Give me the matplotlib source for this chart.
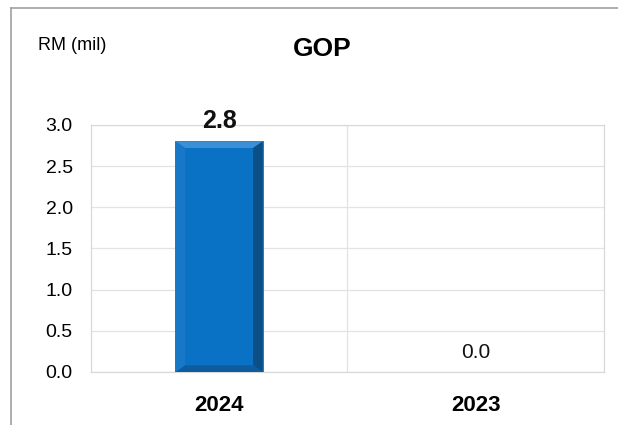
import matplotlib.pyplot as plt
from matplotlib.patches import Polygon
from matplotlib.lines import Line2D

years = ['2024', '2023']
gop = [2.8, 0.0]
yticks = [0.0, 0.5, 1.0, 1.5, 2.0, 2.5, 3.0]

plt.rcParams['font.family'] = ['Liberation Sans', 'DejaVu Sans']

fig = plt.figure(figsize=(6.18, 4.25), dpi=100)
ax = fig.add_axes([0.147, 0.125, 0.83, 0.581])

x = list(range(len(years)))
bw = 0.34
bars = ax.bar(x, gop, width=bw, color='#0A72C4', edgecolor='#2A6AA8', linewidth=0.6, zorder=3)

# bevel look on each bar
for rect in bars:
    x0, w, h = rect.get_x(), rect.get_width(), rect.get_height()
    if h <= 0:
        continue
    dx = w * 0.11
    dy = 0.08
    x1 = x0 + w
    ax.add_patch(Polygon([(x0, h), (x1, h), (x1 - dx, h - dy), (x0 + dx, h - dy)],
                         closed=True, color='#3B8FD6', lw=0, zorder=4))
    ax.add_patch(Polygon([(x1, h), (x1, 0), (x1 - dx, dy), (x1 - dx, h - dy)],
                         closed=True, color='#0C4E86', lw=0, zorder=4))
    ax.add_patch(Polygon([(x0, 0), (x1, 0), (x1 - dx, dy), (x0 + dx, dy)],
                         closed=True, color='#0E5C9E', lw=0, zorder=4))
    ax.add_patch(Polygon([(x0, h), (x0, 0), (x0 + dx, dy), (x0 + dx, h - dy)],
                         closed=True, color='#1678C6', lw=0, zorder=4))

for xi, v in zip(x, gop):
    if v > 0:
        ax.text(xi, v + 0.1, f'{v:.1f}', ha='center', va='bottom',
                fontsize=18, fontweight='bold', color='#111111')
    else:
        ax.text(xi, v + 0.12, f'{v:.1f}', ha='center', va='bottom',
                fontsize=15, color='#111111')

ax.set_xlim(-0.5, len(years) - 0.5)
ax.set_ylim(0, 3.0)
ax.set_yticks(yticks)
ax.set_yticklabels([f'{t:.1f}' for t in yticks], fontsize=14)
ax.set_xticks(x)
ax.set_xticklabels(years, fontsize=16, fontweight='bold')
ax.tick_params(axis='y', length=0, pad=13)
ax.tick_params(axis='x', length=0, pad=17)
ax.yaxis.grid(True, color='#E3E3E3', linewidth=0.9, zorder=0)
ax.axvline(0.5, color='#E3E3E3', linewidth=0.9, zorder=0)
for s in ax.spines.values():
    s.set_color('#D9D9D9')
    s.set_linewidth(0.9)

fig.text(0.522, 0.885, 'GOP', ha='center', va='center', fontsize=19, fontweight='bold')
fig.text(0.062, 0.893, 'RM (mil)', ha='left', va='center', fontsize=13)

# outer frame (top and left edges only)
fig.add_artist(Line2D([0.018, 1.0], [0.981, 0.981], color='#A0A0A0', lw=1.2))
fig.add_artist(Line2D([0.018, 0.018], [0.0, 0.981], color='#A0A0A0', lw=1.2))

fig.savefig('out.png', dpi=100)
